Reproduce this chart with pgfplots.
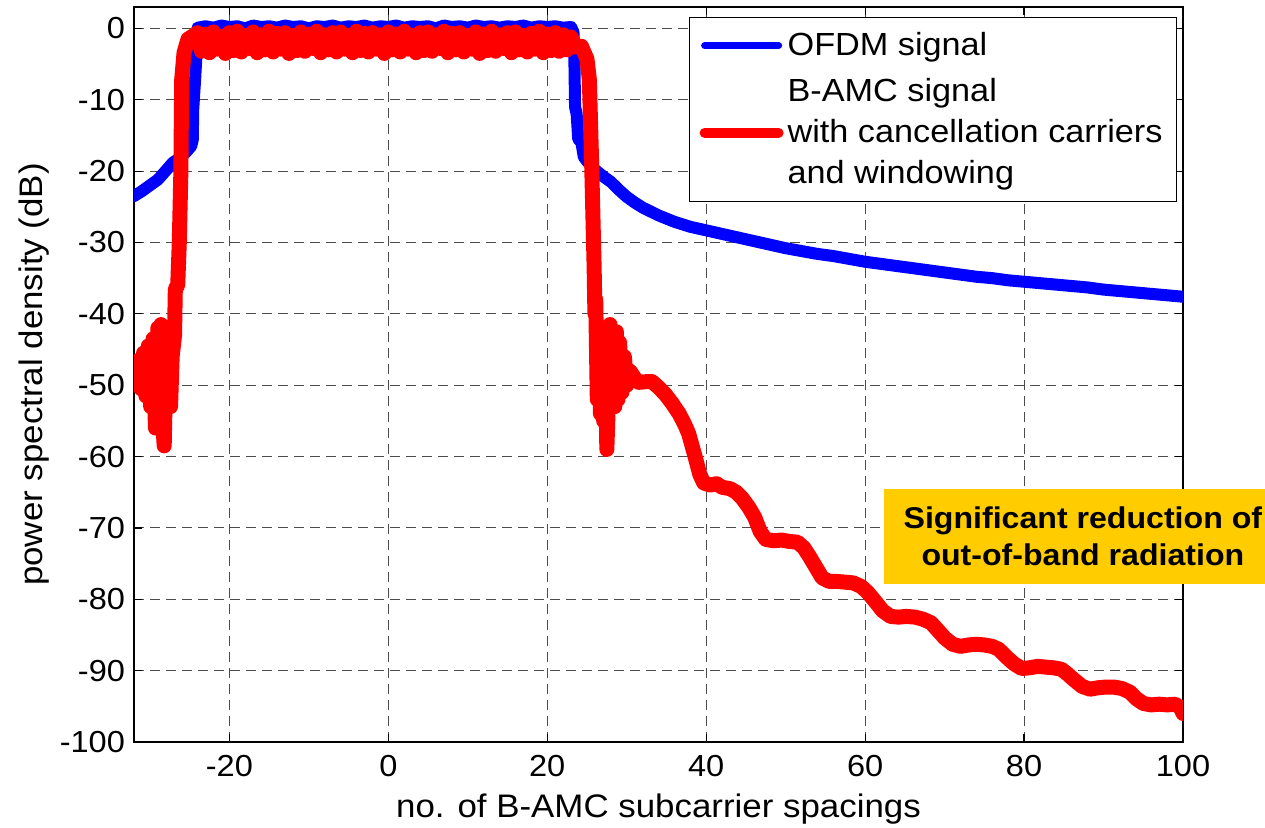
\documentclass[border=0pt]{standalone}
\usepackage{fontspec}
\setmainfont[FakeStretch=1.07]{Liberation Sans}
\usepackage{pgfplots}
\pgfplotsset{compat=1.18}
\definecolor{annot}{RGB}{255,204,0}

\begin{document}
\begin{tikzpicture}
\begin{axis}[
    at={(0,0)}, anchor=south west,
    scale only axis,
    width=524.5pt, height=367.5pt,
    xmin=-32, xmax=100,
    ymin=-100, ymax=3,
    xtick={-20,0,...,100},
    ytick={-100,-90,...,0},
    tick align=inside,
    major tick length=4pt,
    tick style={black, line width=0.6pt},
    axis line style={black, line width=0.8pt},
    grid=major,
    major grid style={black!70, line width=0.5pt, dash pattern=on 5pt off 3pt},
    /pgf/number format/assume math mode=true,
    tick label style={font=\fontsize{15.2}{18}\selectfont},
    xticklabel style={yshift=-3pt},
    yticklabel style={xshift=-1pt},
    label style={font=\fontsize{16.3}{19}\selectfont},
    xlabel={no. of B-AMC subcarrier spacings},
    ylabel={power spectral density (dB)},
    xlabel style={at={(axis description cs:0.5,0)}, anchor=base, yshift=-37.5pt},
    ylabel style={at={(axis description cs:-0.08,0.5)}, anchor=south, inner sep=0pt},
    clip mode=individual,
    legend cell align=left,
    legend style={at={(0.9943,0.9864)}, anchor=north east,
        draw=black, line width=0.5pt, fill=white,
        font=\fontsize{16}{20.5}\selectfont,
        inner xsep=5pt, inner ysep=5.5pt, row sep=6pt,
        nodes={align=left}},
]

% OFDM signal
\addplot[blue, line width=6pt, line join=round, line cap=round,
    legend image code/.code={\draw[blue, line width=3.5pt] (0pt,0pt) -- (37pt,0pt);}]
coordinates {
(-32,-23.5) (-31,-22.8) (-30,-22.0) (-29,-21.2) (-28.2,-20.2) (-27.1,-18.8)
(-26.3,-18.2) (-25.5,-17.4) (-24.8,-16.5) (-24.6,-15.6) (-24.55,-11.4)
(-24.3,-7) (-24.1,-3) (-24.0,0.1)
(-23,0.3) (-22,0.1) (-21,0.4) (-20,0.2) (-19,0.3) (-18,0.0) (-17,0.4)
(-16,0.2) (-15,0.3) (-14,0.1) (-13,0.4) (-12,0.2) (-11,0.3) (-10,0.0)
(-9,0.3) (-8,0.2) (-7,0.4) (-6,0.1) (-5,0.3) (-4,0.2) (-3,0.4) (-2,0.1)
(-1,0.3) (0,0.2) (1,0.4) (2,0.1) (3,0.3) (4,0.2) (5,0.3) (6,0.0) (7,0.4)
(8,0.2) (9,0.3) (10,0.1) (11,0.4) (12,0.2) (13,0.3) (14,0.1) (15,0.3)
(16,0.2) (17,0.4) (18,0.1) (19,0.3) (20,0.2) (21,0.3) (22,0.1) (23,0.2)
(23.3,-0.5) (23.4,-3) (23.5,-11) (23.7,-12) (23.9,-15.5) (24.3,-16)
(24.6,-18) (25,-18.6) (26,-19.8) (27,-20.7) (28,-21.5) (29,-22.6)
(30,-23.6) (31,-24.4) (32,-25.1) (34,-26.2) (36,-27.1) (38,-27.8)
(40,-28.3) (42,-28.8) (44,-29.3) (46,-29.8) (48,-30.3) (50,-30.8)
(52,-31.2) (54,-31.6) (56,-31.9) (58,-32.3) (60,-32.7) (62,-33.0)
(64,-33.3) (66,-33.6) (68,-33.9) (70,-34.2) (72,-34.5) (74,-34.8)
(76,-35.0) (78,-35.3) (80,-35.5) (82,-35.7) (84,-35.9) (86,-36.1)
(88,-36.3) (90,-36.6) (92,-36.8) (94,-37.0) (96,-37.2) (98,-37.4) (100,-37.6)
};
\addlegendentry{OFDM signal}

% B-AMC signal
\addplot[red, line width=7.5pt, line join=round, line cap=round,
    legend image code/.code={\draw[red, line width=5pt] (0pt,0pt) -- (37pt,0pt);}]
coordinates {
(-32,-47) (-31.7,-50) (-31.4,-46.5) (-31.1,-50.5) (-30.8,-45.5) (-30.5,-51.5)
(-30.2,-44.5) (-29.9,-53) (-29.6,-43.5) (-29.3,-56) (-29.0,-42) (-28.8,-48)
(-28.6,-41.5) (-28.4,-55) (-28.2,-58.5) (-28.0,-47) (-27.8,-52) (-27.6,-45)
(-27.4,-53) (-27.2,-46) (-26.9,-43) (-26.8,-36.5) (-26.5,-36) (-26.3,-30)
(-26.1,-20) (-26.0,-7.2) (-25.7,-3.4) (-25.2,-1.5)
(-24.5,-1.0) (-24,-0.6) (-23.5,-3.2) (-23,-0.8) (-22.5,-3.4) (-22,-0.5)
(-21.5,-2.9) (-21,-1.1) (-20.5,-3.5) (-20,-0.6) (-19.5,-3.1) (-19,-0.4)
(-18.5,-3.3) (-18,-1.0) (-17.5,-2.8) (-17,-0.5) (-16.5,-3.4) (-16,-0.9)
(-15.5,-3.0) (-15,-0.4) (-14.5,-3.3) (-14,-0.7) (-13.5,-2.9) (-13,-0.6)
(-12.5,-3.5) (-12,-1.0) (-11.5,-3.1) (-11,-0.5) (-10.5,-3.2) (-10,-0.8)
(-9.5,-2.8) (-9,-0.4) (-8.5,-3.4) (-8,-0.9) (-7.5,-3.0) (-7,-0.6)
(-6.5,-3.3) (-6,-0.5) (-5.5,-2.9) (-5,-1.0) (-4.5,-3.4) (-4,-0.4)
(-3.5,-3.1) (-3,-0.7) (-2.5,-3.3) (-2,-0.6) (-1.5,-2.9) (-1,-0.9)
(-0.5,-3.5) (0,-0.5) (0.5,-3.0) (1,-0.8) (1.5,-3.3) (2,-0.4)
(2.5,-2.9) (3,-1.0) (3.5,-3.4) (4,-0.6) (4.5,-3.1) (5,-0.5)
(5.5,-3.2) (6,-0.9) (6.5,-2.8) (7,-0.4) (7.5,-3.4) (8,-0.7)
(8.5,-3.0) (9,-0.6) (9.5,-3.3) (10,-1.0) (10.5,-2.9) (11,-0.5)
(11.5,-3.5) (12,-0.8) (12.5,-3.1) (13,-0.4) (13.5,-3.2) (14,-0.9)
(14.5,-2.8) (15,-0.6) (15.5,-3.4) (16,-0.5) (16.5,-3.0) (17,-1.0)
(17.5,-3.3) (18,-0.7) (18.5,-2.9) (19,-0.4) (19.5,-3.4) (20,-0.8)
(20.5,-3.1) (21,-0.6) (21.5,-3.2) (22,-0.9) (22.5,-3.0) (23,-1.2) (23.5,-2.6)
(24.3,-2.5) (25.0,-4.3) (25.3,-7.2) (25.6,-19.4) (25.9,-33.4) (26.0,-40)
(26.1,-38) (26.3,-52) (26.5,-44) (26.7,-54) (26.9,-46) (27.1,-55)
(27.3,-45) (27.5,-59) (27.7,-52) (27.9,-41.5) (28.1,-50) (28.3,-43)
(28.5,-53) (28.7,-42.5) (28.9,-52) (29.1,-44) (29.4,-51) (29.7,-46)
(30.0,-50) (30.4,-48) (31.0,-49) (31.5,-49.6) (32.5,-49.5) (33.2,-49.5)
(34.0,-50.3) (34.8,-51.2) (35.7,-52.5) (36.6,-54) (37.3,-55.5) (37.8,-56.8)
(38.6,-60) (39.2,-62.5) (39.7,-63.7) (40.5,-64) (41.3,-63.8) (42,-64.3)
(43,-64.5) (43.8,-65) (44.5,-65.8) (45.3,-67) (46.1,-68.5) (46.8,-70.5)
(47.5,-71.6) (48.5,-71.8) (49.5,-71.7) (50.5,-71.9) (51.5,-72) (52.3,-72.8)
(53.0,-74) (53.8,-75.5) (54.6,-77) (55.5,-77.5) (56.5,-77.5) (57.5,-77.6)
(58.5,-77.7) (59.5,-78.2) (60.3,-79) (61.2,-80.2) (62.2,-81.6) (63.2,-82.4)
(64.2,-82.5) (65.2,-82.4) (66.3,-82.5) (67.3,-82.8) (68.3,-83.3) (69.2,-84.4)
(70.0,-85.4) (71.0,-86.3) (72.0,-86.6) (73.0,-86.4) (74.0,-86.3) (75.0,-86.4)
(76.0,-86.6) (76.8,-87) (77.7,-88) (78.7,-89) (79.7,-89.7) (80.7,-89.6)
(81.7,-89.4) (82.7,-89.5) (83.7,-89.6) (84.7,-89.8) (85.5,-90.5) (86.3,-91.3)
(87.3,-92.2) (88.3,-92.6) (89.3,-92.4) (90.3,-92.3) (91.3,-92.3) (92.3,-92.5)
(93.3,-93) (94.1,-93.9) (95.0,-94.6) (96.0,-94.8) (97.0,-94.7) (98.0,-94.8)
(99.0,-94.7) (99.7,-95.2) (100,-96)
};
\addlegendentry{B-AMC signal\\with cancellation carriers\\and windowing}

\node[fill=annot, font=\bfseries\fontsize{15}{18.5}\selectfont, align=center,
    inner xsep=10pt, minimum height=47.5pt]
    at (axis cs:87.4,-71.2) {Significant reduction of\\out-of-band radiation};
\end{axis}
\pgfresetboundingbox
\path[use as bounding box] (-67pt,-42.5pt) rectangle (565.5pt,371pt);
\end{tikzpicture}
\end{document}
